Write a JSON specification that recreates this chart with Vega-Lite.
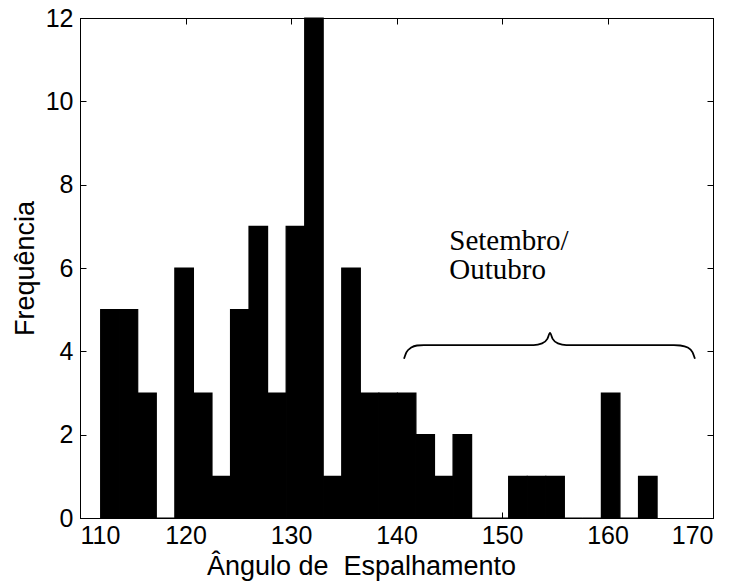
{
  "$schema": "https://vega.github.io/schema/vega-lite/v6.json",
  "width": 633,
  "height": 500,
  "autosize": {"type": "none"},
  "padding": {"left": 80, "top": 18, "right": 24, "bottom": 63},
  "background": "white",
  "config": {
    "view": {"stroke": "black", "strokeWidth": 1},
    "axis": {
      "grid": false,
      "domainColor": "black",
      "tickColor": "black",
      "labelColor": "black",
      "titleColor": "black",
      "labelFont": "Liberation Sans",
      "titleFont": "Liberation Sans",
      "labelFontSize": 25,
      "titleFontSize": 27,
      "titleFontWeight": "normal",
      "tickSize": -6
    }
  },
  "datasets": {
    "bins": [
      {"start": 111.96, "end": 113.72, "count": 5},
      {"start": 113.72, "end": 115.47, "count": 5},
      {"start": 115.47, "end": 117.23, "count": 3},
      {"start": 117.23, "end": 118.99, "count": 0},
      {"start": 118.99, "end": 120.75, "count": 6},
      {"start": 120.75, "end": 122.51, "count": 3},
      {"start": 122.51, "end": 124.27, "count": 1},
      {"start": 124.27, "end": 126.02, "count": 5},
      {"start": 126.02, "end": 127.78, "count": 7},
      {"start": 127.78, "end": 129.54, "count": 3},
      {"start": 129.54, "end": 131.30, "count": 7},
      {"start": 131.30, "end": 133.05, "count": 12},
      {"start": 133.05, "end": 134.81, "count": 1},
      {"start": 134.81, "end": 136.57, "count": 6},
      {"start": 136.57, "end": 138.33, "count": 3},
      {"start": 138.33, "end": 140.09, "count": 3},
      {"start": 140.09, "end": 141.84, "count": 3},
      {"start": 141.84, "end": 143.60, "count": 2},
      {"start": 143.60, "end": 145.36, "count": 1},
      {"start": 145.36, "end": 147.12, "count": 2},
      {"start": 147.12, "end": 148.87, "count": 0},
      {"start": 148.87, "end": 150.63, "count": 0},
      {"start": 150.63, "end": 152.39, "count": 1},
      {"start": 152.39, "end": 154.15, "count": 1},
      {"start": 154.15, "end": 155.91, "count": 1},
      {"start": 155.91, "end": 157.66, "count": 0},
      {"start": 157.66, "end": 159.42, "count": 0},
      {"start": 159.42, "end": 161.18, "count": 3},
      {"start": 161.18, "end": 162.94, "count": 0},
      {"start": 162.94, "end": 164.70, "count": 1}
    ],
    "brace": [
      {"x": 140.71, "y": 3.82},
      {"x": 140.95, "y": 3.98},
      {"x": 141.4, "y": 4.09},
      {"x": 141.94, "y": 4.14},
      {"x": 142.6, "y": 4.15},
      {"x": 153.0, "y": 4.15},
      {"x": 153.8, "y": 4.19},
      {"x": 154.3, "y": 4.3},
      {"x": 154.55, "y": 4.44},
      {"x": 154.8, "y": 4.3},
      {"x": 155.3, "y": 4.19},
      {"x": 156.1, "y": 4.15},
      {"x": 166.3, "y": 4.15},
      {"x": 166.9, "y": 4.14},
      {"x": 167.6, "y": 4.09},
      {"x": 168.05, "y": 3.98},
      {"x": 168.29, "y": 3.82}
    ],
    "notes": [
      {"x": 145.0, "y": 6.43, "label": "Setembro/"},
      {"x": 145.0, "y": 5.74, "label": "Outubro"}
    ]
  },
  "layer": [
    {
      "data": {"name": "bins"},
      "mark": {"type": "bar", "color": "black", "stroke": "black", "strokeWidth": 1.2},
      "encoding": {
        "x": {
          "field": "start", "type": "quantitative",
          "scale": {"domain": [110, 170], "nice": false, "zero": false},
          "axis": {
            "orient": "bottom",
            "values": [110, 120, 130, 140, 150, 160, 170],
            "labelPadding": 11,
            "title": "Ângulo de\u00a0 Espalhamento",
            "titleX": 281,
            "titleY": 56,
            "titleAnchor": null,
            "titleAlign": "center",
            "titleBaseline": "alphabetic"
          }
        },
        "x2": {"field": "end"},
        "y": {
          "field": "count", "type": "quantitative",
          "scale": {"domain": [0, 12], "nice": false},
          "axis": {
            "orient": "left",
            "values": [0, 2, 4, 6, 8, 10, 12],
            "labelPadding": 13,
            "title": "Frequência",
            "titleX": -47,
            "titleY": 250,
            "titleAngle": -90,
            "titleAlign": "center",
            "titleBaseline": "alphabetic"
          }
        },
        "y2": {"datum": 0}
      }
    },
    {
      "data": {"name": "brace"},
      "mark": {"type": "line", "color": "black", "strokeWidth": 1.8, "interpolate": "monotone"},
      "encoding": {
        "x": {
          "field": "x", "type": "quantitative",
          "axis": {"orient": "top", "values": [110, 120, 130, 140, 150, 160, 170], "labels": false, "title": null}
        },
        "y": {
          "field": "y", "type": "quantitative",
          "axis": {"orient": "right", "values": [0, 2, 4, 6, 8, 10, 12], "labels": false, "title": null}
        }
      }
    },
    {
      "data": {"name": "notes"},
      "mark": {"type": "text", "font": "Liberation Serif", "fontSize": 29, "align": "left", "baseline": "alphabetic", "color": "black"},
      "encoding": {
        "x": {"field": "x", "type": "quantitative", "axis": null},
        "y": {"field": "y", "type": "quantitative", "axis": null},
        "text": {"field": "label"}
      }
    }
  ],
  "resolve": {"axis": {"x": "independent", "y": "independent"}}
}
